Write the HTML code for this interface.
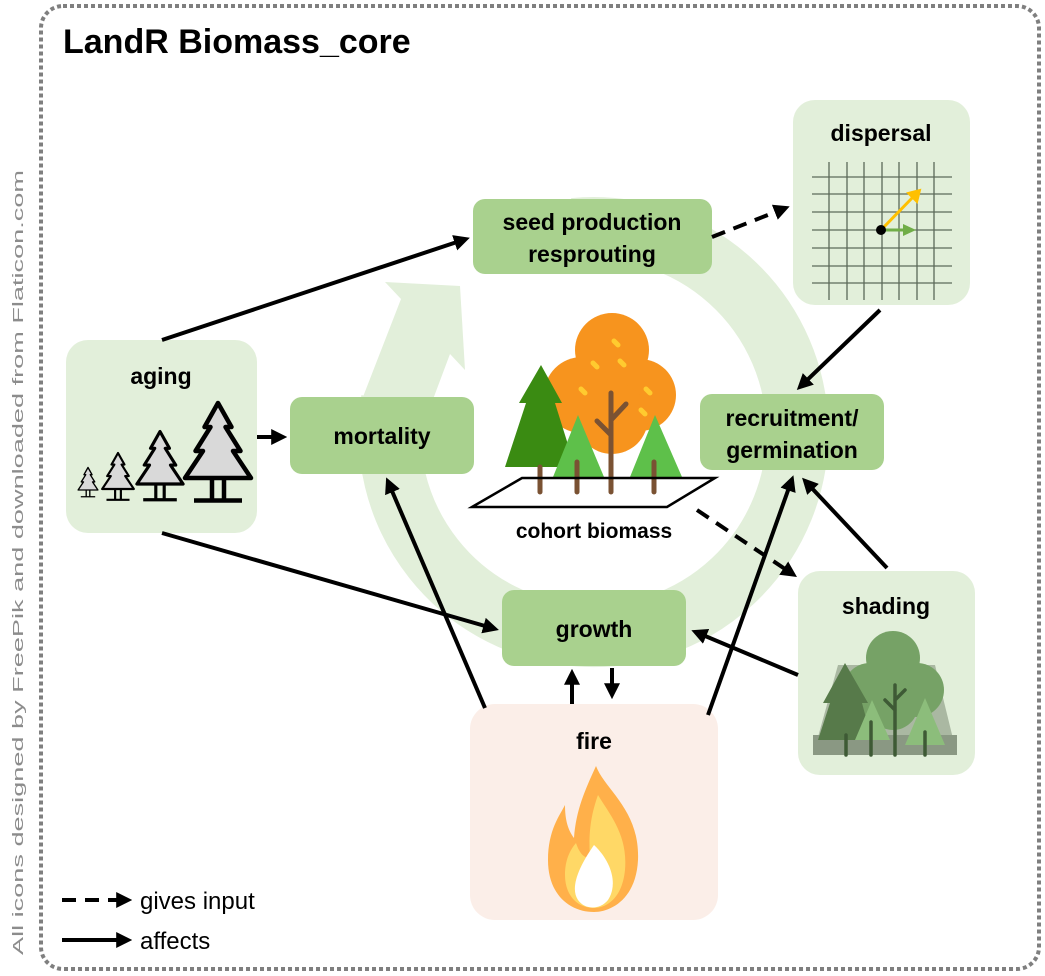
<!DOCTYPE html>
<html><head><meta charset="utf-8"><style>
html,body{margin:0;padding:0;background:#fff}
svg{display:block}
text{font-family:"Liberation Sans",sans-serif}
.b{font-weight:bold;font-size:23px;fill:#000}
</style></head><body>
<svg width="1045" height="976" viewBox="0 0 1045 976" xmlns="http://www.w3.org/2000/svg">
<defs>
<marker id="ah" markerWidth="4" markerHeight="4" refX="2.2" refY="2" orient="auto" markerUnits="strokeWidth">
<path d="M0,0 L4,2 L0,4 z" fill="#000"/></marker>
<g id="pine">
<path d="M0,-50 L-9,-34 L-5,-34 L-15,-18 L-10,-18 L-22,0 L22,0 L10,-18 L15,-18 L5,-34 L9,-34 z" fill="#d9d9d9" stroke="#000" stroke-width="3" stroke-linejoin="round"/>
<path d="M-4,0 V14 M4,0 V14 M-16,15 H16" stroke="#000" stroke-width="3" fill="none"/>
</g>
</defs>
<rect x="41" y="6" width="998" height="963" rx="22" fill="none" stroke="#7f7f7f" stroke-width="4" stroke-dasharray="4,3"/>
<text x="63" y="53" font-size="34" font-weight="bold">LandR Biomass_core</text>

<path d="M574,229 A204,204 0 1 1 392,400" fill="none" stroke="#e2efda" stroke-width="62"/>
<path d="M361,402 L401,299 L385,282 L460,286 L465,370 L450,354 L432,402 z" fill="#e2efda"/>

<rect x="793" y="100" width="177" height="205" rx="22" fill="#e2efda"/>
<text x="881" y="141" text-anchor="middle" class="b">dispersal</text>
<g stroke="#3b4a3b" stroke-width="1.3" opacity="0.8">
<path d="M812,177H952M812,194H952M812,212H952M812,230H952M812,248H952M812,266H952M812,283H952"/>
<path d="M829,162V300M847,162V300M864,162V300M882,162V300M899,162V300M917,162V300M934,162V300"/>
</g>
<path d="M881,230 L915,195" stroke="#ffc000" stroke-width="3"/><path d="M920,190 L917,202 L908,193z" fill="#ffc000" stroke="#ffc000" stroke-width="2"/>
<path d="M881,230 H904" stroke="#70ad47" stroke-width="3"/><path d="M916,230 L903,224 L903,236z" fill="#70ad47"/>
<circle cx="881" cy="230" r="5" fill="#000"/>

<rect x="66" y="340" width="191" height="193" rx="22" fill="#e2efda"/>
<text x="161" y="384" text-anchor="middle" class="b">aging</text>
<g transform="translate(88,490) scale(0.45)"><use href="#pine"/></g>
<g transform="translate(118,489) scale(0.72)"><use href="#pine"/></g>
<g transform="translate(160,484) scale(1.05)"><use href="#pine"/></g>
<g transform="translate(218,478) scale(1.5)"><use href="#pine"/></g>

<rect x="473" y="199" width="239" height="75" rx="12" fill="#a9d18e"/>
<text x="592" y="230" text-anchor="middle" class="b">seed production</text>
<text x="592" y="262" text-anchor="middle" class="b">resprouting</text>

<rect x="290" y="397" width="184" height="77" rx="12" fill="#a9d18e"/>
<text x="382" y="444" text-anchor="middle" class="b">mortality</text>

<rect x="700" y="394" width="184" height="76" rx="12" fill="#a9d18e"/>
<text x="792" y="426" text-anchor="middle" class="b">recruitment/</text>
<text x="792" y="458" text-anchor="middle" class="b">germination</text>

<rect x="502" y="590" width="184" height="76" rx="12" fill="#a9d18e"/>
<text x="594" y="637" text-anchor="middle" class="b">growth</text>

<rect x="798" y="571" width="177" height="204" rx="22" fill="#e2efda"/>
<text x="886" y="614" text-anchor="middle" class="b">shading</text>
<path d="M813,755 L838,665 L935,665 L957,755z" fill="#aab8a2"/>
<rect x="813" y="735" width="144" height="20" fill="#8a9883"/>
<circle cx="893" cy="658" r="27" fill="#76a266"/>
<circle cx="870" cy="690" r="27" fill="#76a266"/>
<circle cx="917" cy="690" r="27" fill="#76a266"/>
<circle cx="893" cy="705" r="25" fill="#76a266"/>
<path d="M845,663 L823,703 L830,703 L818,740 L872,740 L862,703 L868,703z" fill="#577a4a"/>
<path d="M872,700 L855,740 L890,740z M925,698 L905,745 L945,745z" fill="#8cbd7b"/>
<path d="M846,735V755M871,722V755M925,732V755M895,685V755M895,710L885,700M895,700L905,690" stroke="#3e5a35" stroke-width="3.5" stroke-linecap="round"/>

<rect x="470" y="704" width="248" height="216" rx="25" fill="#fbeee8"/>
<text x="594" y="749" text-anchor="middle" class="b">fire</text>
<path d="M596,766 C605,790 640,810 638,860 C636,900 610,912 594,912 C570,912 548,895 548,860 C548,830 560,815 565,805 C565,820 568,830 574,838 C576,810 585,790 596,766z" fill="#ffb04a"/>
<path d="M598,795 C610,815 628,835 625,870 C622,900 605,908 594,908 C578,908 565,896 565,875 C565,860 570,850 576,843 C580,855 585,858 590,858 C588,830 592,812 598,795z" fill="#ffd866"/>
<path d="M594,845 C612,862 618,885 608,900 C600,910 585,910 578,900 C570,888 578,868 594,845z" fill="#fff"/>

<circle cx="612" cy="350" r="37" fill="#f7941e"/>
<circle cx="582" cy="395" r="38" fill="#f7941e"/>
<circle cx="640" cy="395" r="36" fill="#f7941e"/>
<circle cx="612" cy="418" r="36" fill="#f7941e"/>
<g stroke="#ffcb2f" stroke-width="5" stroke-linecap="round">
<path d="M614,341l4,4M593,363l4,4M620,361l4,4M581,389l4,4M646,389l4,4M641,410l4,4"/></g>
<path d="M541,365 L519,403 L526,403 L505,467 L575,467 L555,403 L562,403z" fill="#3a8b12"/>
<path d="M578,415 L553,477 L604,477z M655,415 L630,477 L682,477z" fill="#5ec04a"/>
<path d="M540,467V492M577,462V492M654,462V492M611,393V492M611,435L597,421M611,420L626,404" stroke="#7a5233" stroke-width="5" stroke-linecap="round"/>
<path d="M472,507 L522,478 L715,478 L667,507z" fill="none" stroke="#000" stroke-width="2.5"/>
<text x="594" y="538" text-anchor="middle" font-size="21" font-weight="bold">cohort biomass</text>

<g stroke="#000" stroke-width="4" fill="none" marker-end="url(#ah)">
<path d="M162,340 L463,240"/>
<path d="M257,437 L280,437"/>
<path d="M162,533 L492,628"/>
<path d="M880,310 L802,385"/>
<path d="M887,568 L807,483"/>
<path d="M798,675 L698,633"/>
<path d="M485,708 L389,484"/>
<path d="M708,715 L791,482"/>
<path d="M572,704 L572,676"/>
<path d="M612,668 L612,692"/>
<path d="M712,237 L783,209" stroke-dasharray="14,9"/>
<path d="M697,510 L791,573" stroke-dasharray="14,9"/>
<path d="M62,900 L125,900" stroke-dasharray="14,9"/>
<path d="M62,940 L125,940"/>
</g>
<text x="140" y="909" font-size="24">gives input</text>
<text x="140" y="949" font-size="24">affects</text>
<text transform="translate(23,955) rotate(-90)" font-size="15" fill="#8c8c8c" textLength="785" lengthAdjust="spacingAndGlyphs">All icons designed by FreePik and downloaded from Flaticon.com</text>
</svg>
</body></html>
